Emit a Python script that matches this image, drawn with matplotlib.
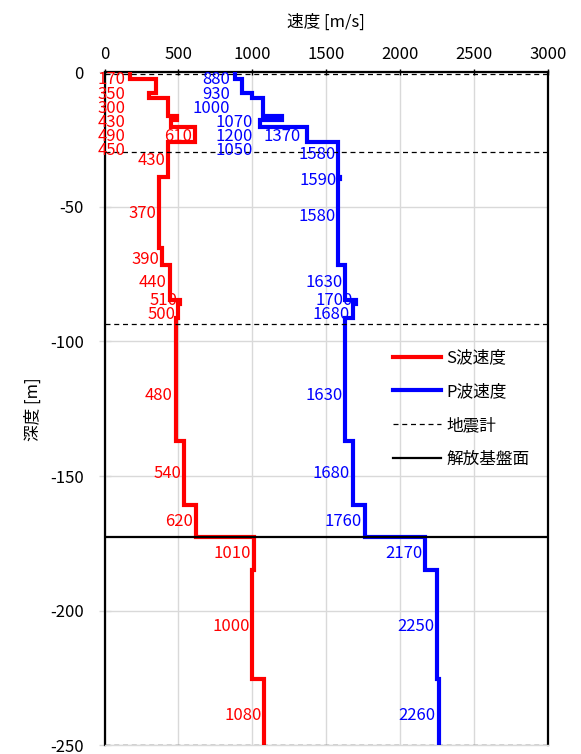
import numpy as np
import matplotlib.pyplot as plt
from matplotlib.lines import Line2D

plt.rcParams['font.family'] = ['Noto Sans CJK JP', 'DejaVu Sans']
plt.rcParams['axes.unicode_minus'] = False

# layer boundaries [m, depth below surface] and velocities [m/s]
s_bounds = [0, 2.7, 7.8, 9.6, 16.2, 17.8, 20.5, 26.0, 38.9, 65.4, 71.7,
            84.5, 86.0, 91.3, 137.1, 160.6, 172.6, 184.7, 225.2, 250]
s_vel = [170, 350, 300, 430, 490, 450, 610, 430, 370, 390, 440,
         510, 500, 480, 540, 620, 1010, 1000, 1080]

p_bounds = [0, 2.7, 7.8, 9.6, 16.2, 17.8, 20.5, 26.0, 39.0, 39.8, 71.7,
            84.5, 86.0, 91.3, 137.1, 160.6, 172.6, 184.7, 225.2, 250]
p_vel = [880, 930, 1000, 1070, 1200, 1050, 1370, 1580, 1590, 1580, 1630,
         1700, 1680, 1630, 1680, 1760, 2170, 2250, 2260]

seismometer_depths = [0.6, 29.7, 93.6, 250]
bedrock_depth = 172.6

x_ticks = [0, 500, 1000, 1500, 2000, 2500, 3000]
y_ticks = [0, -50, -100, -150, -200, -250]


def step_profile(bounds, vel):
    b = np.asarray(bounds, dtype=float)
    v = np.asarray(vel, dtype=float)
    x = np.repeat(v, 2)
    y = -np.column_stack((b[:-1], b[1:])).ravel()
    return x, y


fig = plt.figure(figsize=(5.81, 7.54), dpi=100)
ax = fig.add_axes([0.180, 0.0113, 0.763, 0.8932])

grid_c = '#d9d9d9'
for xt in x_ticks:
    ax.axvline(xt, color=grid_c, lw=1.0, zorder=0)
for yt in y_ticks:
    ax.axhline(yt, color=grid_c, lw=1.0, zorder=0)

sx, sy = step_profile(s_bounds, s_vel)
px, py = step_profile(p_bounds, p_vel)
ax.plot(sx, sy, color='#ff0000', lw=3.0, solid_joinstyle='miter', zorder=3)
ax.plot(px, py, color='#0000ff', lw=3.0, solid_joinstyle='miter', zorder=3)

for d in seismometer_depths:
    ax.axhline(-d, color='black', lw=0.9, ls=(0, (4, 3)), zorder=4)
ax.axhline(-bedrock_depth, color='black', lw=1.6, zorder=4)

# data labels: depth where each label sits
s_label_depth = [2.6, 8.2, 13.4, 18.6, 24.1, 29.3, 23.8, 32.7, 52.4, 69.5, 78.0,
                 84.7, 89.9, 120.0, 149.0, 167.0, 178.7, 206.0, 239.0]
p_label_depth = [2.6, 8.2, 13.4, 18.6, 24.1, 29.3, 23.8, 30.8, 40.1, 53.5, 78.0,
                 84.7, 89.9, 120.0, 149.0, 167.0, 178.7, 206.0, 239.0]
# labels stacked in a column near the surface (right-edge velocity)
s_column = {0: 139, 1: 139, 2: 139, 3: 139, 4: 139, 5: 139}
p_column = {0: 848, 1: 848, 2: 848, 3: 1003, 4: 1003, 5: 1003}
s_center = {6: 500}
p_center = {6: 1200}

fs = 12
for vel, depths, column, center, col in [
        (s_vel, s_label_depth, s_column, s_center, '#ff0000'),
        (p_vel, p_label_depth, p_column, p_center, '#0000ff')]:
    for i, (v, d) in enumerate(zip(vel, depths)):
        if i in column:
            ax.text(column[i], -d, str(v), ha='right', va='center',
                    color=col, fontsize=fs, zorder=5)
        elif i in center:
            ax.text(center[i], -d, str(v), ha='center', va='center',
                    color=col, fontsize=fs, zorder=5)
        else:
            ax.annotate(str(v), xy=(v, -d), xytext=(-2, 0),
                        textcoords='offset points', ha='right', va='center',
                        color=col, fontsize=fs, zorder=5)

ax.set_xlim(0, 3000)
ax.set_ylim(-250, 0)
ax.set_xticks(x_ticks)
ax.set_yticks(y_ticks)
ax.xaxis.tick_top()
ax.xaxis.set_label_position('top')
ax.set_xlabel('速度 [m/s]', fontsize=fs, labelpad=14)
ax.set_ylabel('深度 [m]', fontsize=fs, labelpad=6)
ax.tick_params(axis='x', direction='inout', length=5, width=1.0,
               color='black', labelsize=fs, pad=4)
ax.tick_params(axis='y', direction='inout', length=8, width=1.0,
               color=grid_c, labelsize=fs, pad=11)

for side in ['left', 'top', 'right']:
    ax.spines[side].set_linewidth(1.6)
    ax.spines[side].set_color('black')
ax.spines['bottom'].set_color(grid_c)
ax.spines['bottom'].set_linewidth(1.0)

handles = [
    Line2D([], [], color='#ff0000', lw=3.0),
    Line2D([], [], color='#0000ff', lw=3.0),
    Line2D([], [], color='black', lw=0.9, ls=(0, (4, 3))),
    Line2D([], [], color='black', lw=1.6),
]
labels = ['S波速度', 'P波速度', '地震計', '解放基盤面']
ax.legend(handles, labels, loc='upper left', bbox_to_anchor=(0.617, 0.61),
          frameon=False, fontsize=fs, handlelength=2.9, handletextpad=0.3,
          labelspacing=1.0)

fig.savefig('out.png', dpi=100)
